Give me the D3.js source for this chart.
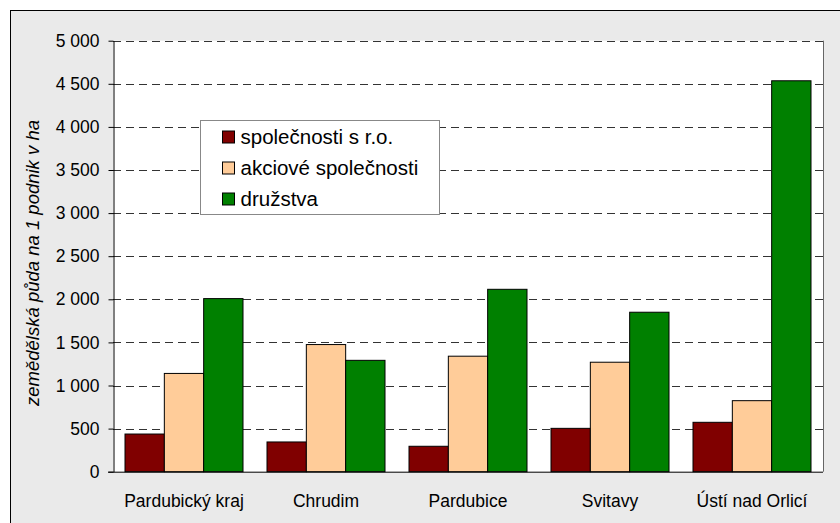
<!DOCTYPE html>
<meta charset="utf-8">
<style>
body { margin: 0; background: #fff; }
text { font-family: Arial, "Liberation Sans", sans-serif; fill: #000; }
.grid line { stroke: #333; stroke-dasharray: 8,5; }
</style>
<svg width="840" height="523"></svg>
<script src="https://d3js.org/d3.v7.min.js"></script>
<script>
// data
var regions = ["Pardubický kraj", "Chrudim", "Pardubice", "Svitavy", "Ústí nad Orlicí"];
var seriesNames = ["společnosti s r.o.", "akciové společnosti", "družstva"];
var sro = [437, 345, 295, 503, 573];
var akciove = [1140, 1475, 1340, 1270, 824];
var druzstva = [2008, 1292, 2116, 1850, 4535];
var colors = ["#800000", "#ffcc99", "#008000"];
var yTicks = [0, 500, 1000, 1500, 2000, 2500, 3000, 3500, 4000, 4500, 5000];

var svg = d3.select("svg");
var plot = {left: 113, right: 823, top: 40.7, bottom: 471.7};

// outer frame
svg.append("rect")
    .attr("x", 10.5).attr("y", 10.5)
    .attr("width", 840).attr("height", 520)
    .attr("fill", "#eaeaea").attr("stroke", "#000");

svg.append("rect")
    .attr("x", plot.left).attr("y", plot.top)
    .attr("width", plot.right - plot.left).attr("height", plot.bottom - plot.top)
    .attr("fill", "#fff");

// right border of plot area
svg.append("line")
    .attr("x1", plot.right + 0.5).attr("x2", plot.right + 0.5)
    .attr("y1", plot.top).attr("y2", plot.bottom)
    .attr("stroke", "#666");

var y = d3.scaleLinear().domain([0, 5000]).range([plot.bottom, plot.top]);
var x0 = d3.scaleBand().domain(regions).range([plot.left, plot.right]).paddingInner(24 / 142).paddingOuter(12 / 142);
var x1 = d3.scaleBand().domain(d3.range(3)).range([0, x0.bandwidth()]);

var fmt = function(d) { return d3.format(",")(d).replace(",", " "); };

// gridlines
svg.append("g").attr("class", "grid")
  .selectAll("line")
  .data(yTicks.filter(function(d) { return d > 0; }))
  .enter().append("line")
    .attr("x1", plot.left).attr("x2", plot.right)
    .attr("y1", function(d) { return Math.round(y(d)) + 0.5; })
    .attr("y2", function(d) { return Math.round(y(d)) + 0.5; });

// bars
var rows = regions.map(function(r, i) { return [sro[i], akciove[i], druzstva[i]]; });
svg.append("g").selectAll("g")
  .data(rows)
  .enter().append("g")
    .attr("transform", function(d, i) { return "translate(" + x0(regions[i]) + ",0)"; })
  .selectAll("rect")
  .data(function(d) { return d; })
  .enter().append("rect")
    .attr("x", function(d, j) { return x1(j); })
    .attr("y", function(d) { return y(d); })
    .attr("width", x1.bandwidth())
    .attr("height", function(d) { return y(0) - y(d); })
    .attr("fill", function(d, j) { return colors[j]; })
    .attr("stroke", "#000")
    .attr("stroke-width", 1);

// y axis
var yAxis = svg.append("g")
    .attr("transform", "translate(" + (plot.left + 0.5) + ",0)")
    .call(d3.axisLeft(y).tickValues(yTicks).tickFormat(fmt).tickSize(5).tickSizeOuter(0).tickPadding(9));
yAxis.selectAll("text").style("font-size", "17.5px").attr("font-family", null);
yAxis.select(".domain").attr("stroke", "#000");

// x axis
var xAxis = svg.append("g")
    .attr("transform", "translate(0," + (plot.bottom + 0.5) + ")")
    .call(d3.axisBottom(x0).tickSize(0).tickPadding(22));
xAxis.selectAll("text").style("font-size", "17.5px").attr("font-family", null);
xAxis.select(".domain").attr("d", "M" + (plot.left - 5) + ",0H" + plot.right).attr("stroke", "#000");

// y axis title
svg.append("text")
    .attr("transform", "translate(39,263) rotate(-90)")
    .attr("text-anchor", "middle")
    .style("font-size", "18.5px")
    .style("font-style", "italic")
    .text("zemědělská půda na 1 podnik v ha");

// legend
var legend = svg.append("g").attr("transform", "translate(200.5,120.5)");
legend.append("rect")
    .attr("width", 239).attr("height", 94)
    .attr("fill", "#fff").attr("stroke", "#888");
var item = legend.selectAll("g.item")
  .data(seriesNames)
  .enter().append("g").attr("class", "item")
    .attr("transform", function(d, i) { return "translate(22," + (16.5 + i * 31) + ")"; });
item.append("rect")
    .attr("y", -6).attr("width", 12).attr("height", 12)
    .attr("fill", function(d, i) { return colors[i]; })
    .attr("stroke", "#000");
item.append("text")
    .attr("x", 18).attr("dy", "0.35em")
    .style("font-size", "20.5px")
    .text(function(d) { return d; });
</script>
